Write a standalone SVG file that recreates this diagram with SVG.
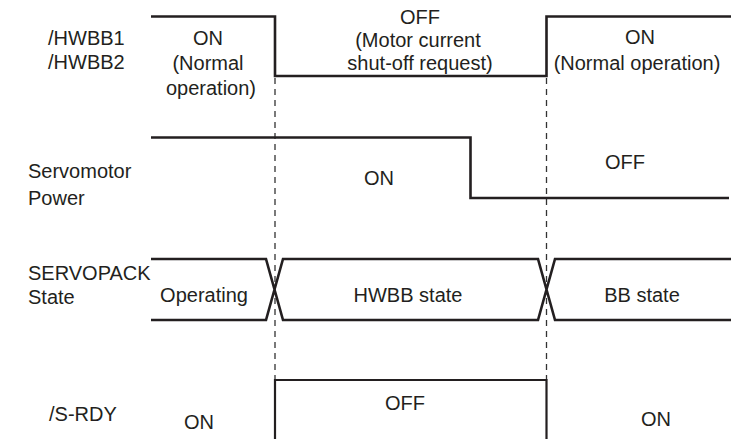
<svg xmlns="http://www.w3.org/2000/svg" width="731" height="439" viewBox="0 0 731 439">
<style>
text{font-family:"Liberation Sans",Arial,Helvetica,sans-serif;font-size:20px;fill:#231f20}
.c{text-anchor:middle}
.w{fill:none;stroke:#231f20;stroke-width:2.6;stroke-linejoin:miter;stroke-linecap:butt}
.b{fill:none;stroke:#231f20;stroke-width:2.2}
.d{fill:none;stroke:#333;stroke-width:1.3;stroke-dasharray:6,5}
</style>
<rect width="731" height="439" fill="#fff"/>
<g id="connectors">
<line class="d" x1="275" y1="78" x2="275" y2="380"/>
<line class="d" x1="546.5" y1="78" x2="546.5" y2="380"/>
</g>
<g id="hwbb">
<text x="48" y="45">/HWBB1</text>
<text x="48" y="69">/HWBB2</text>
<polyline class="w" points="151,16.5 275,16.5 275,76 546.5,76 546.5,16.5 731,16.5"/>
<text class="c" x="208" y="45">ON</text>
<text class="c" x="208" y="70">(Normal</text>
<text class="c" x="211" y="95">operation)</text>
<text class="c" x="420" y="24">OFF</text>
<text class="c" x="418" y="47">(Motor current</text>
<text class="c" x="420" y="70">shut-off request)</text>
<text class="c" x="640" y="44">ON</text>
<text class="c" x="637" y="70">(Normal operation)</text>
</g>
<g id="servomotor-power">
<text x="28" y="178">Servomotor</text>
<text x="28" y="205">Power</text>
<polyline class="w" points="151,137.5 470.5,137.5 470.5,198 729,198"/>
<text class="c" x="379" y="185">ON</text>
<text class="c" x="625" y="169">OFF</text>
</g>
<g id="servopack-state">
<text x="28" y="280">SERVOPACK</text>
<text x="28" y="304">State</text>
<path class="w" d="M151,259H266L283,320H538L555,259H731M151,320H266L283,259H538L555,320H731"/>
<text class="c" x="204" y="302">Operating</text>
<text class="c" x="408" y="302">HWBB state</text>
<text class="c" x="642" y="302">BB state</text>
</g>
<g id="s-rdy">
<text x="49" y="421">/S-RDY</text>
<polyline class="b" points="275,440 275,380 546.5,380 546.5,440"/>
<text class="c" x="199" y="429">ON</text>
<text class="c" x="405" y="410">OFF</text>
<text class="c" x="656" y="426">ON</text>
</g>
</svg>
